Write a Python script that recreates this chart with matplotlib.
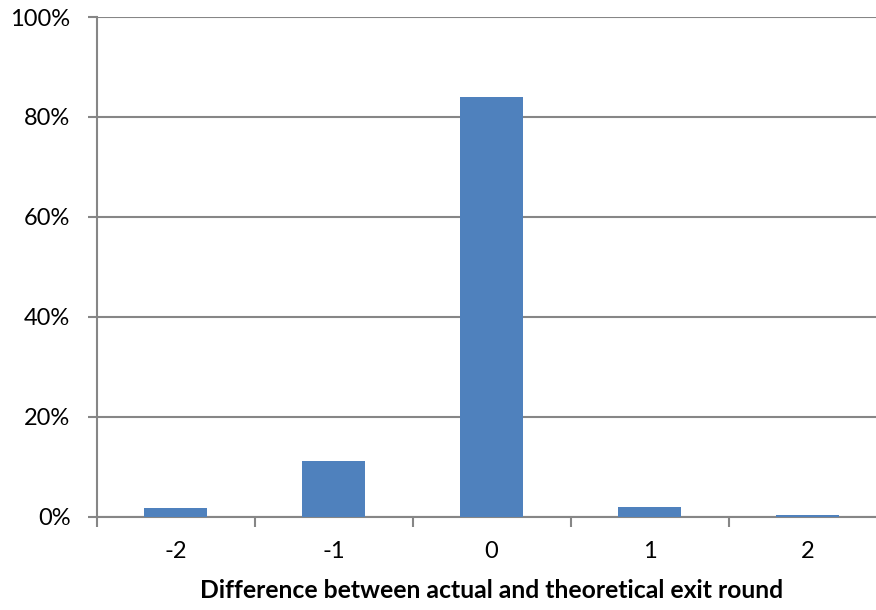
import matplotlib.pyplot as plt
import numpy as np
from matplotlib.ticker import FuncFormatter, MultipleLocator

# data
categories = ["-2", "-1", "0", "1", "2"]
shares = [1.7, 11.2, 83.9, 2.0, 0.3]  # percent

bar_color = "#4F81BD"
grid_color = "#868686"

plt.rcParams["font.family"] = ["Lato", "DejaVu Sans"]

fig = plt.figure(figsize=(8.76, 6.10), dpi=100)
# right edge of the plot runs slightly past the picture, as in the reference
ax = fig.add_axes([96.5 / 876, 93.5 / 610, 790 / 876, 499.5 / 610])

x = np.arange(len(categories))
ax.bar(x, shares, width=0.4, color=bar_color, zorder=3)

ax.set_xlim(-0.5, len(categories) - 0.5)
ax.set_ylim(0, 100)
ax.yaxis.set_major_locator(MultipleLocator(20))
ax.yaxis.set_major_formatter(FuncFormatter(lambda v, p: "%d%%" % v))
ax.grid(axis="y", color=grid_color, linewidth=1.5, zorder=0)

ax.set_xticks(x)
ax.set_xticklabels(categories)
ax.set_xticks(np.arange(-0.5, len(categories)), minor=True)
ax.tick_params(axis="x", which="major", length=0, pad=18, labelsize=17)
ax.tick_params(axis="x", which="minor", length=7, width=1.5, color=grid_color)
ax.tick_params(axis="y", length=6.3, width=1.5, color=grid_color, pad=12.5, labelsize=17)

for s in ["top", "right"]:
    ax.spines[s].set_visible(False)
for s in ["left", "bottom"]:
    ax.spines[s].set_color(grid_color)
    ax.spines[s].set_linewidth(1.5)

xl = ax.set_xlabel("Difference between actual and theoretical exit round",
                   fontsize=17, fontweight="bold", labelpad=12)

# scale the axis title so it spans about 584 px like the reference
fig.canvas.draw()
w = xl.get_window_extent().width
xl.set_fontsize(17 * 584 / w)

fig.savefig("out.png", dpi=100)
